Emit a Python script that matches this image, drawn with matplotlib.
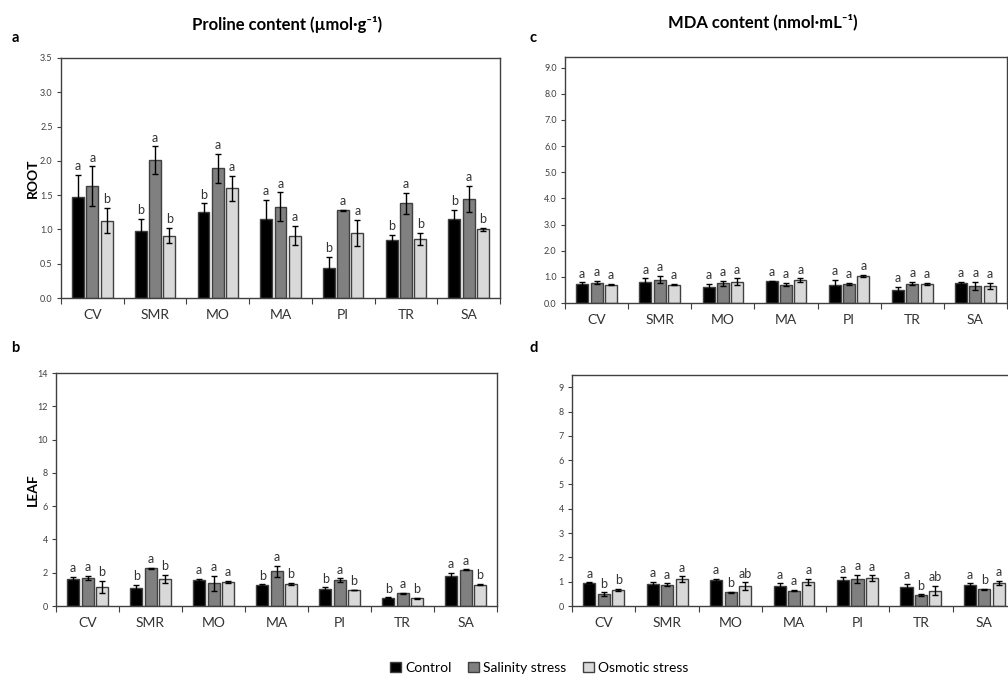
import matplotlib
matplotlib.use("Agg")
from matplotlib import pyplot as plt
from matplotlib.patches import Patch
import numpy as np

plt.rcParams['font.family'] = ['Lato', 'DejaVu Sans']

categories = ["CV", "SMR", "MO", "MA", "PI", "TR", "SA"]
series = ["Control", "Salinity stress", "Osmotic stress"]
colors = ["#000000", "#808080", "#d9d9d9"]

# a: proline, root
root_pro = [[1.47, 0.98, 1.25, 1.15, 0.44, 0.85, 1.15],
            [1.63, 2.01, 1.89, 1.33, 1.28, 1.38, 1.45],
            [1.13, 0.91, 1.60, 0.91, 0.95, 0.86, 1.00]]
root_pro_err = [[0.33, 0.17, 0.13, 0.28, 0.16, 0.07, 0.13],
                [0.29, 0.20, 0.21, 0.21, 0.01, 0.15, 0.19],
                [0.18, 0.11, 0.18, 0.14, 0.19, 0.09, 0.02]]
root_pro_let = [["a", "b", "b", "a", "b", "b", "b"],
                ["a", "a", "a", "a", "a", "a", "a"],
                ["b", "b", "a", "a", "a", "b", "b"]]

# b: proline, leaf
leaf_pro = [[1.62, 1.08, 1.54, 1.26, 1.00, 0.50, 1.82],
            [1.68, 2.26, 1.36, 2.08, 1.56, 0.76, 2.18],
            [1.14, 1.62, 1.44, 1.34, 0.96, 0.46, 1.28]]
leaf_pro_err = [[0.12, 0.18, 0.08, 0.04, 0.12, 0.02, 0.16],
                [0.14, 0.02, 0.44, 0.32, 0.10, 0.02, 0.02],
                [0.36, 0.24, 0.08, 0.06, 0.02, 0.05, 0.03]]
leaf_pro_let = [["a", "b", "a", "b", "b", "b", "a"],
                ["a", "a", "a", "a", "a", "a", "a"],
                ["b", "b", "a", "b", "b", "b", "b"]]

# c: MDA, root
root_mda = [[0.73, 0.79, 0.60, 0.84, 0.70, 0.48, 0.76],
            [0.78, 0.89, 0.75, 0.70, 0.74, 0.74, 0.64],
            [0.70, 0.70, 0.82, 0.87, 1.03, 0.74, 0.65]]
root_mda_err = [[0.06, 0.15, 0.14, 0.02, 0.18, 0.13, 0.06],
                [0.06, 0.14, 0.09, 0.06, 0.04, 0.06, 0.16],
                [0.02, 0.03, 0.12, 0.07, 0.03, 0.04, 0.11]]
root_mda_let = [["a"] * 7, ["a"] * 7, ["a"] * 7]

# d: MDA, leaf
leaf_mda = [[0.95, 0.90, 1.05, 0.81, 1.05, 0.78, 0.88],
            [0.48, 0.88, 0.56, 0.63, 1.11, 0.45, 0.68],
            [0.66, 1.11, 0.81, 0.99, 1.15, 0.63, 0.95]]
leaf_mda_err = [[0.02, 0.10, 0.06, 0.12, 0.13, 0.12, 0.05],
                [0.08, 0.05, 0.03, 0.03, 0.16, 0.03, 0.02],
                [0.05, 0.11, 0.16, 0.12, 0.11, 0.19, 0.08]]
leaf_mda_let = [["a", "a", "a", "a", "a", "a", "a"],
                ["b", "a", "b", "a", "a", "b", "b"],
                ["b", "a", "ab", "a", "a", "ab", "a"]]

edge = "#404040"


def draw(ax, vals, errs, lets, ymax, yticks, fmt):
    x = np.arange(len(categories))
    step, width = 0.227, 0.19
    for i in range(3):
        xs = x + (i - 1) * step
        ax.bar(xs, vals[i], width, color=colors[i], edgecolor=edge, linewidth=1,
               yerr=errs[i], error_kw=dict(ecolor="black", elinewidth=1, capsize=2.5, capthick=1))
        for xx, v, e, t in zip(xs, vals[i], errs[i], lets[i]):
            ax.annotate(t, (xx, v + e), xytext=(0, 2), textcoords="offset points",
                        ha="center", va="bottom", fontsize=9, color="#333333")
    ax.set_xlim(-0.5, len(categories) - 0.5)
    ax.set_ylim(0, ymax)
    ax.set_yticks(yticks)
    ax.set_yticklabels([fmt.format(t) for t in yticks], fontsize=6.5, color="#404040")
    ax.set_xticks(np.arange(len(categories) + 1) - 0.5)
    ax.set_xticklabels([])
    ax.set_xticks(x, minor=True)
    ax.set_xticklabels(categories, minor=True, fontsize=10, color="#333333")
    ax.tick_params(axis="x", which="minor", length=0, pad=8)
    ax.tick_params(axis="x", which="major", length=4, color=edge, direction="out")
    ax.tick_params(axis="y", length=3, color=edge, direction="out", pad=3)
    for s in ax.spines.values():
        s.set_color(edge)
        s.set_linewidth(1)


fig = plt.figure(figsize=(10.08, 6.75), dpi=100)

ax_a = fig.add_axes([0.0605, 0.5585, 0.4355, 0.3556])
draw(ax_a, root_pro, root_pro_err, root_pro_let, 3.5, np.arange(0, 3.51, 0.5), "{:.1f}")
ax_b = fig.add_axes([0.0556, 0.1022, 0.4375, 0.3452])
draw(ax_b, leaf_pro, leaf_pro_err, leaf_pro_let, 14, np.arange(0, 15, 2), "{:.0f}")
ax_c = fig.add_axes([0.5605, 0.5511, 0.4385, 0.3644])
draw(ax_c, root_mda, root_mda_err, root_mda_let, 9.4, np.arange(0, 9.1, 1.0), "{:.1f}")
ax_d = fig.add_axes([0.5675, 0.1022, 0.4405, 0.3422])
draw(ax_d, leaf_mda, leaf_mda_err, leaf_mda_let, 9.5, np.arange(0, 10, 1), "{:.0f}")

fig.text(0.285, 0.963, "Proline content (µmol·g⁻¹)", ha="center", va="center",
         fontsize=12, fontweight="bold")
fig.text(0.757, 0.968, "MDA content (nmol·mL⁻¹)", ha="center", va="center",
         fontsize=12, fontweight="bold")
for lab, xx, yy in [("a", 0.015, 0.944), ("b", 0.015, 0.484),
                    ("c", 0.529, 0.944), ("d", 0.529, 0.484)]:
    fig.text(xx, yy, lab, fontsize=10.5, fontweight="bold", ha="center", va="center")
fig.text(0.033, 0.736, "ROOT", rotation=90, fontsize=10, fontweight="bold",
         ha="center", va="center")
fig.text(0.033, 0.274, "LEAF", rotation=90, fontsize=10, fontweight="bold",
         ha="center", va="center")

handles = [Patch(facecolor=c, edgecolor=edge, linewidth=1) for c in colors]
fig.legend(handles, series, loc="center", bbox_to_anchor=(0.535, 0.011), ncol=3,
           frameon=False, fontsize=10, handlelength=0.8, handleheight=0.8,
           handletextpad=0.3, columnspacing=1.2)

fig.savefig("out.png", dpi=100)
